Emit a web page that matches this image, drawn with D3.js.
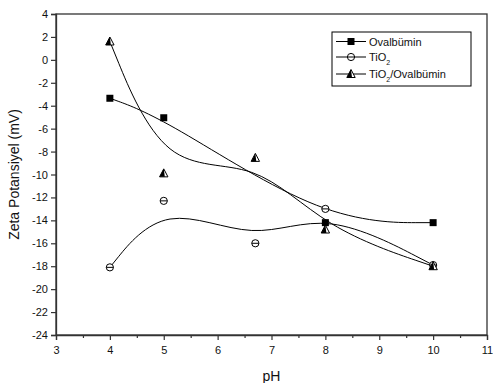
<!DOCTYPE html>
<html>
<head>
<meta charset="utf-8">
<script src="https://cdn.jsdelivr.net/npm/d3@7"></script>
<style>
  body { margin: 0; background: #fff; }
  text { font-family: "Liberation Sans", Arial, sans-serif; fill: #111; }
</style>
</head>
<body>
<svg width="493" height="383"></svg>
<script>
// values
const phOval = [4, 5, 8, 10];
const zetaOval = [-3.35, -5.05, -14.2, -14.2];
const phTio2 = [4, 5, 6.7, 8, 10];
const zetaTio2 = [-18.1, -12.3, -16.0, -13.0, -17.9];
const phMix = [4, 5, 6.7, 8, 10];
const zetaMix = [1.6, -9.9, -8.55, -14.8, -18.0];
const xTicks = d3.range(3, 12, 1);
const yTicks = d3.range(-24, 5, 2);

const series = [
    {name: 'Ovalbumin', x: phOval, y: zetaOval, marker: 'square'},
    {name: 'TiO2', x: phTio2, y: zetaTio2, marker: 'circle'},
    {name: 'TiO2/Ovalbumin', x: phMix, y: zetaMix, marker: 'triangle'}
];

let svg = d3.select('svg');
let m = {left: 56, right: 487, top: 14, bottom: 335};

let x = d3.scaleLinear().domain([3, 11]).range([m.left, m.right]);
let y = d3.scaleLinear().domain([-24, 4]).range([m.bottom, m.top]);

// frame
svg.append('rect')
    .attr('x', m.left).attr('y', m.top)
    .attr('width', m.right - m.left).attr('height', m.bottom - m.top)
    .attr('fill', 'none').attr('stroke', '#333').attr('stroke-width', 1.3);

// x axis, major + minor ticks
svg.append('g')
    .attr('transform', `translate(0,${m.bottom})`)
    .call(d3.axisBottom(x).tickValues(xTicks).tickSize(5).tickPadding(6).tickFormat(d3.format('d')));
svg.append('g')
    .attr('transform', `translate(0,${m.bottom})`)
    .call(d3.axisBottom(x).tickValues(d3.range(3.5, 11, 1)).tickSize(3).tickFormat(''))
    .select('.domain').remove();

svg.append('g')
    .attr('transform', `translate(${m.left},0)`)
    .call(d3.axisLeft(y).tickValues(yTicks).tickSize(5).tickPadding(3).tickFormat(d3.format('d')));

svg.selectAll('.domain').attr('stroke', '#333').attr('stroke-width', 1.3);
svg.selectAll('.tick line').attr('stroke', '#333').attr('stroke-width', 1.2);
svg.selectAll('.tick text')
    .style('font-family', '"Liberation Sans", Arial, sans-serif')
    .style('font-size', '11px')
    .attr('fill', '#111')
    .text(function () { return this.textContent.replace('\u2212', '-'); });

// axis titles
svg.append('text')
    .attr('x', (m.left + m.right) / 2).attr('y', 381)
    .attr('text-anchor', 'middle')
    .style('font-size', '14px')
    .text('pH');
svg.append('text')
    .attr('transform', `translate(19,${(m.top + m.bottom) / 2}) rotate(-90)`)
    .attr('text-anchor', 'middle')
    .style('font-size', '14px')
    .text('Zeta Potansiyel (mV)');

// smooth curves (B-spline through the points as controls)
let line = d3.line().x(d => x(d[0])).y(d => y(d[1])).curve(d3.curveBasis);
let plot = svg.append('g');
series.forEach(s => {
    let pts = s.x.map((v, i) => [v, s.y[i]]);
    plot.append('path')
        .attr('d', line(pts))
        .attr('fill', 'none')
        .attr('stroke', '#000')
        .attr('stroke-width', 1);
});

function drawMarker(g, type) {
    if (type === 'square') {
        g.append('rect').attr('x', -3.5).attr('y', -3.5).attr('width', 7).attr('height', 7)
            .attr('fill', '#000');
    } else if (type === 'circle') {
        g.append('circle').attr('r', 3.6).attr('fill', '#fff').attr('stroke', '#000').attr('stroke-width', 1);
        g.append('line').attr('x1', -3.6).attr('x2', 3.6).attr('stroke', '#000').attr('stroke-width', 1);
    } else {
        g.append('path').attr('d', 'M0,-4.5L4.2,3.5L-4.2,3.5Z')
            .attr('fill', '#fff').attr('stroke', '#000').attr('stroke-width', 1);
        g.append('path').attr('d', 'M0,-4.5L1,3.5L-4.2,3.5Z').attr('fill', '#000');
    }
}

series.forEach(s => {
    s.x.forEach((v, i) => {
        let g = plot.append('g').attr('transform', `translate(${x(v)},${y(s.y[i])})`);
        drawMarker(g, s.marker);
    });
});

// legend
let legend = svg.append('g');
legend.append('rect')
    .attr('x', 332).attr('y', 32).attr('width', 139).attr('height', 54)
    .attr('fill', '#fff').attr('stroke', '#000').attr('stroke-width', 1);
let rowsY = [41.5, 57, 74];
series.forEach((s, i) => {
    let row = legend.append('g').attr('transform', `translate(0,${rowsY[i]})`);
    row.append('line').attr('x1', 336).attr('x2', 366).attr('stroke', '#000').attr('stroke-width', 1);
    let mk = row.append('g').attr('transform', 'translate(351,0)');
    drawMarker(mk, s.marker);
    let t = row.append('text').attr('x', 369).attr('y', 4).style('font-size', '11px');
    if (s.name.startsWith('TiO2')) {
        t.append('tspan').text('TiO');
        t.append('tspan').attr('dy', 4).style('font-size', '7px').text('2');
        t.append('tspan').attr('dy', -4).text(s.name.slice(4).replace('Ovalbumin', 'Ovalbümin'));
    } else {
        t.text(s.name.replace('Ovalbumin', 'Ovalbümin'));
    }
});
</script>
</body>
</html>
